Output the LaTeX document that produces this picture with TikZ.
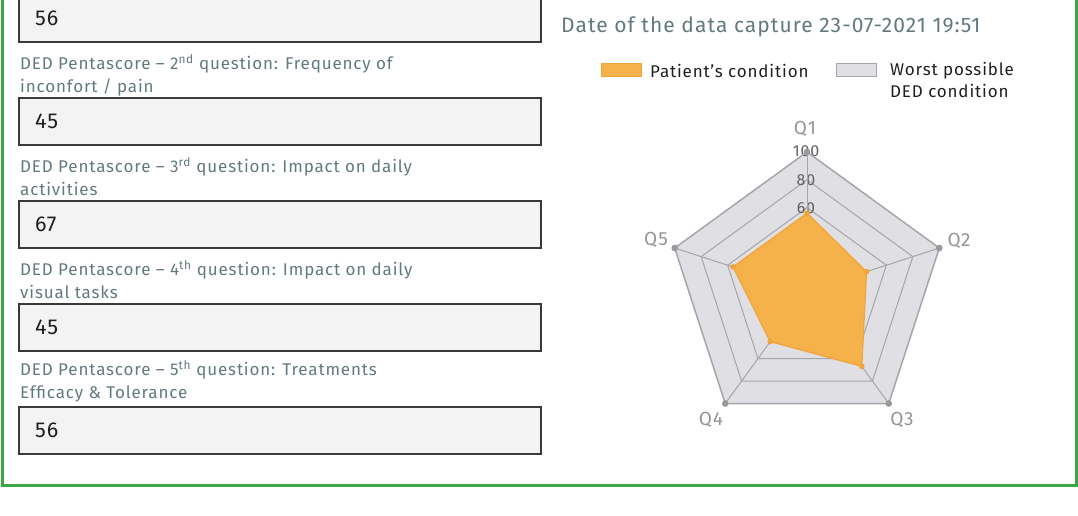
\documentclass[tikz,border=0pt]{standalone}
\usepackage{fontspec}
\setmainfont{Fira Sans}[LetterSpace=5]
\usetikzlibrary{positioning,calc}
\definecolor{frame}{HTML}{3CA544}
\definecolor{lbl}{HTML}{62797F}
\definecolor{boxfill}{HTML}{F3F3F4}
\definecolor{boxdraw}{HTML}{3A3A3A}
\definecolor{pgrid}{HTML}{A6A6AA}
\definecolor{pfill}{HTML}{DFDFE4}
\definecolor{orfill}{HTML}{F6B24A}
\definecolor{orline}{HTML}{F0A43A}

\begin{document}
\begin{tikzpicture}
[x=1pt, y=-1pt, font=\fontsize{17}{22}\selectfont,
valbox/.style={rectangle, draw=boxdraw, fill=boxfill, line width=2pt, inner xsep=16pt, inner ysep=0pt, text width=490pt, minimum height=47pt, align=left, text=black!88, font=\fontsize{21.5}{24}\selectfont},
question/.style={anchor=north west, align=left, text=lbl, inner sep=0pt, font=\fontsize{17}{23}\selectfont},
legkey/.style={rectangle, line width=1pt, inner sep=0pt, minimum width=40pt, minimum height=13pt},
legtext/.style={anchor=west, align=left, inner sep=0pt, text=black!88, font=\fontsize{17}{22}\selectfont},
axlabel/.style={text=black!42, inner sep=0pt, font=\fontsize{19}{21}\selectfont},
ticklabel/.style={text=black!62, inner sep=0pt, font=\fontsize{16}{18}\selectfont}]

\useasboundingbox (0,0) rectangle (1078,516);
\draw[frame, line width=3pt] (2,-10) -- (2,485) -- (1076,485) -- (1076,-10);

% left column: answers
\node[valbox] (v1) at (280,18.5) {56};
\node[question] (ql2) at (20,54) {DED Pentascore -- 2\textsuperscript{nd} question: Frequency of\\inconfort / pain};
\node[valbox] (v2) at (280,121.5) {45};
\node[question] (ql3) at (20,157) {DED Pentascore -- 3\textsuperscript{rd} question: Impact on daily\\activities};
\node[valbox] (v3) at (280,224.5) {67};
\node[question] (ql4) at (20,260) {DED Pentascore -- 4\textsuperscript{th} question: Impact on daily\\visual tasks};
\node[valbox] (v4) at (280,327.5) {45};
\node[question] (ql5) at (20,360) {DED Pentascore -- 5\textsuperscript{th} question: Treatments\\Efficacy \& Tolerance};
\node[valbox] (v5) at (280,430.5) {56};

% right column: chart
\node[anchor=west, inner sep=0pt, text=lbl, font=\fontsize{21}{25}\selectfont] (date) at (561,27) {Date of the data capture 23-07-2021 19:51};
\node[legkey, fill=orfill, draw=orline] (keypat) at (621,70.5) {};
\node[legtext] (txtpat) at (650,70.5) {Patient's condition};
\node[legkey, fill=pfill, draw=pgrid] (keyded) at (856.5,70.5) {};
\node[legtext, anchor=north west] (txtded) at (890,62) {Worst possible\\DED condition};

\coordinate (c) at (807,291);
\foreach \i/\a in {1/-90,2/-18,3/54,4/126,5/198}
  \coordinate (q\i) at ($(c)+(\a:139.1)$);

\fill[pfill] (q1) -- (q2) -- (q3) -- (q4) -- (q5) -- cycle;
\foreach \f in {0.2,0.4,0.6,0.8}
  \draw[pgrid, line width=1pt] ($(c)!\f!(q1)$) -- ($(c)!\f!(q2)$) -- ($(c)!\f!(q3)$) -- ($(c)!\f!(q4)$) -- ($(c)!\f!(q5)$) -- cycle;

\node[ticklabel] (t100) at (806,151.5) {100};
\node[ticklabel] (t80) at (806,180) {80};
\node[ticklabel] (t60) at (806,208) {60};

\foreach \i in {1,...,5}
  \draw[pgrid, line width=1pt] (c) -- (q\i);
\draw[pgrid, line width=1.5pt] (q1) -- (q2) -- (q3) -- (q4) -- (q5) -- cycle;

% patient's values
\foreach \i/\v in {1/56,2/45,3/67,4/45,5/56}
  \coordinate (p\i) at ($(c)!\v/100!(q\i)$);
\draw[orline, fill=orfill, line width=1.2pt, line join=round] (p1) -- (p2) -- (p3) -- (p4) -- (p5) -- cycle;

\foreach \i in {1,...,5} {
  \fill[orline] (p\i) circle (2.8);
  \fill[black!40] (q\i) circle (3.3);
}

\node[axlabel] (lq1) at (805,129) {Q1};
\node[axlabel] (lq2) at (959,241) {Q2};
\node[axlabel] (lq3) at (902,420) {Q3};
\node[axlabel] (lq4) at (711,420) {Q4};
\node[axlabel] (lq5) at (656,240) {Q5};
\end{tikzpicture}
\end{document}
